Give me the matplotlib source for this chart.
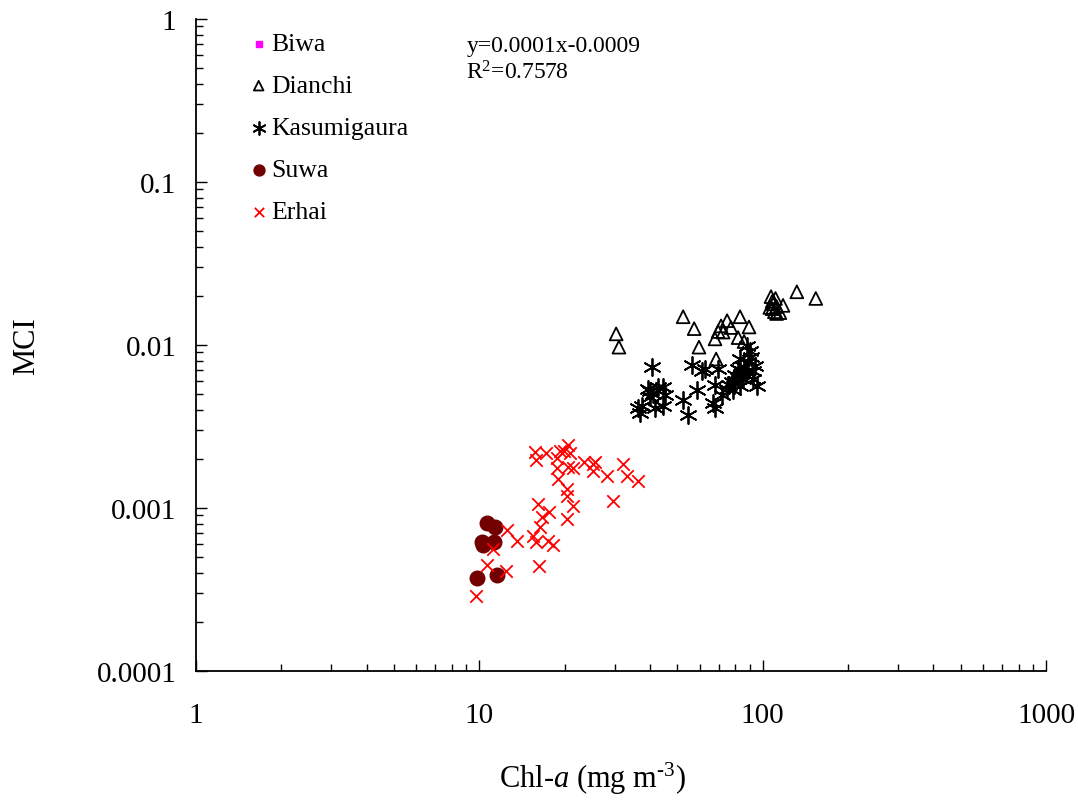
import matplotlib
matplotlib.use("Agg")
import matplotlib.pyplot as plt
from matplotlib.ticker import FixedLocator, LogLocator, NullFormatter

plt.rcParams['font.family'] = ['Liberation Serif', 'DejaVu Serif']
plt.rcParams['mathtext.fontset'] = 'custom'
plt.rcParams['mathtext.rm'] = 'Liberation Serif'
plt.rcParams['mathtext.it'] = 'Liberation Serif:italic'

# data
biwa_chl = []
biwa_mci = []

dianchi_chl = [30.4, 31.1, 52.4, 57.3, 59.6, 68.5, 67.9, 69.6, 71.3, 72.5, 74.9, 77.3,
               83.2, 89.5, 81.9, 86.0, 107, 108, 109, 108, 110, 112, 111, 118, 115,
               132, 154, 106, 112]
dianchi_mci = [0.0117, 0.0097, 0.0149, 0.0126, 0.0097, 0.0082, 0.0109, 0.0121, 0.0131,
               0.0120, 0.0141, 0.0128, 0.0149, 0.0129, 0.0111, 0.0105, 0.0198, 0.0185,
               0.0179, 0.0167, 0.0160, 0.0172, 0.0193, 0.0175, 0.0158, 0.0212, 0.0193,
               0.0170, 0.0156]

kasumi_chl = [40.7, 36.9, 36.3, 37.5, 40.1, 39.4, 41.0, 42.7, 44.5, 45.2, 41.7, 44.5,
              40.1, 52.4, 54.6, 58.7, 56.3, 61.1, 62.6, 69.6, 67.9, 66.8, 67.9, 71.9,
              74.9, 78.0, 79.9, 81.9, 83.2, 88.1, 90.3, 88.8, 94.0, 85.3, 92.5, 95.5,
              78.6, 83.2, 88.1, 92.5, 86.0, 80.0, 76.0, 91.0, 84.0]
kasumi_mci = [0.0073, 0.0038, 0.0041, 0.0042, 0.0052, 0.0054, 0.0050, 0.0055, 0.0055,
              0.0049, 0.0041, 0.0042, 0.0048, 0.0046, 0.0037, 0.0053, 0.0075, 0.0069,
              0.0071, 0.0071, 0.0057, 0.0044, 0.0041, 0.0049, 0.0054, 0.0059, 0.0065,
              0.0071, 0.0082, 0.0099, 0.0092, 0.0079, 0.0074, 0.0062, 0.0062, 0.0056,
              0.0053, 0.0056, 0.0069, 0.0069, 0.0073, 0.0060, 0.0057, 0.0085, 0.0066]

suwa_chl = [10.6, 11.4, 10.2, 10.3, 11.3, 11.5, 9.8]
suwa_mci = [0.00081, 0.00077, 0.00062, 0.00059, 0.00062, 0.00039, 0.00037]

erhai_chl = [15.7, 15.9, 17.2, 18.8, 19.3, 19.9, 20.6, 20.9, 18.8, 20.6, 21.4, 19.0,
             20.4, 20.4, 21.4, 23.4, 25.2, 25.2, 25.6, 28.2, 32.2, 33.2, 36.3, 29.6,
             16.1, 17.6, 16.7, 16.4, 20.4, 12.5, 13.6, 15.5, 15.9, 17.5, 18.2, 11.2,
             10.6, 12.4, 16.3, 9.7]
erhai_mci = [0.00221, 0.00197, 0.00218, 0.00203, 0.00224, 0.00224, 0.00244, 0.00218,
             0.00176, 0.00179, 0.00176, 0.00151, 0.00131, 0.00119, 0.00103, 0.00192,
             0.00187, 0.00169, 0.00192, 0.00157, 0.00187, 0.00157, 0.00147, 0.00111,
             0.00106, 0.00095, 0.00088, 0.00077, 0.00086, 0.00073, 0.00063, 0.00067,
             0.00062, 0.00063, 0.00059, 0.00056, 0.00045, 0.00041, 0.00044, 0.00029]

y_ticks = [0.0001, 0.001, 0.01, 0.1, 1]
y_labels = ["0.0001", "0.001", "0.01", "0.1", "1"]
x_ticks = [1, 10, 100, 1000]
x_labels = ["1", "10", "100", "1000"]

fig = plt.figure(figsize=(10.78, 8.03), dpi=100)
ax = fig.add_axes([196 / 1078, 1 - 672 / 803, 850 / 1078, 652 / 803])

ax.scatter(biwa_chl, biwa_mci, marker='s', s=40, color='#FF00FF', label='Biwa')
ax.scatter(dianchi_chl, dianchi_mci, marker='^', s=85, facecolors='none',
           edgecolors='black', linewidths=1.3, label='Dianchi')
ax.scatter(kasumi_chl, kasumi_mci, marker=(6, 2, 0), s=150, color='black',
           linewidths=1.3, label='Kasumigaura')
ax.scatter(suwa_chl, suwa_mci, marker='o', s=110, color='#720000', label='Suwa')
ax.scatter(erhai_chl, erhai_mci, marker='x', s=80, color='red',
           linewidths=1.3, label='Erhai')

ax.set_xscale('log')
ax.set_yscale('log')
ax.set_xlim(1, 1000)
ax.set_ylim(0.0001, 1)

ax.xaxis.set_major_locator(FixedLocator(x_ticks))
ax.set_xticklabels(x_labels)
ax.yaxis.set_major_locator(FixedLocator(y_ticks))
ax.set_yticklabels(y_labels)
ax.xaxis.set_minor_locator(LogLocator(base=10, subs=range(2, 10)))
ax.yaxis.set_minor_locator(LogLocator(base=10, subs=range(2, 10)))
ax.xaxis.set_minor_formatter(NullFormatter())
ax.yaxis.set_minor_formatter(NullFormatter())

ax.spines['top'].set_visible(False)
ax.spines['right'].set_visible(False)
for sp in ['left', 'bottom']:
    ax.spines[sp].set_linewidth(1.3)

ax.tick_params(axis='both', which='major', direction='in', length=8, width=1,
               labelsize=21)
ax.tick_params(axis='both', which='minor', direction='in', length=5, width=1)
ax.tick_params(axis='x', which='major', pad=22)
ax.tick_params(axis='y', which='major', pad=14)

ax.set_xlabel(r"Chl-$\it{a}$ (mg m$^{\text{-3}}$)", fontsize=22)
ax.xaxis.label.set_va('center')
ax.xaxis.set_label_coords(0.467, -0.164)
ax.set_ylabel("MCI", fontsize=22, labelpad=40)

ax.legend(loc='upper left', bbox_to_anchor=(0.042, 1.007), frameon=False,
          fontsize=18.5, handlelength=0.7, handletextpad=0.15, labelspacing=0.74,
          scatterpoints=1, markerscale=0.75, borderaxespad=0.3)

ax.text(0.318, 0.975, "y=0.0001x-0.0009", transform=ax.transAxes, fontsize=17,
        va='top')
ax.text(0.318, 0.937, r"R$^2$=0.7578", transform=ax.transAxes, fontsize=17,
        va='top')

fig.savefig("out.png", dpi=100)
